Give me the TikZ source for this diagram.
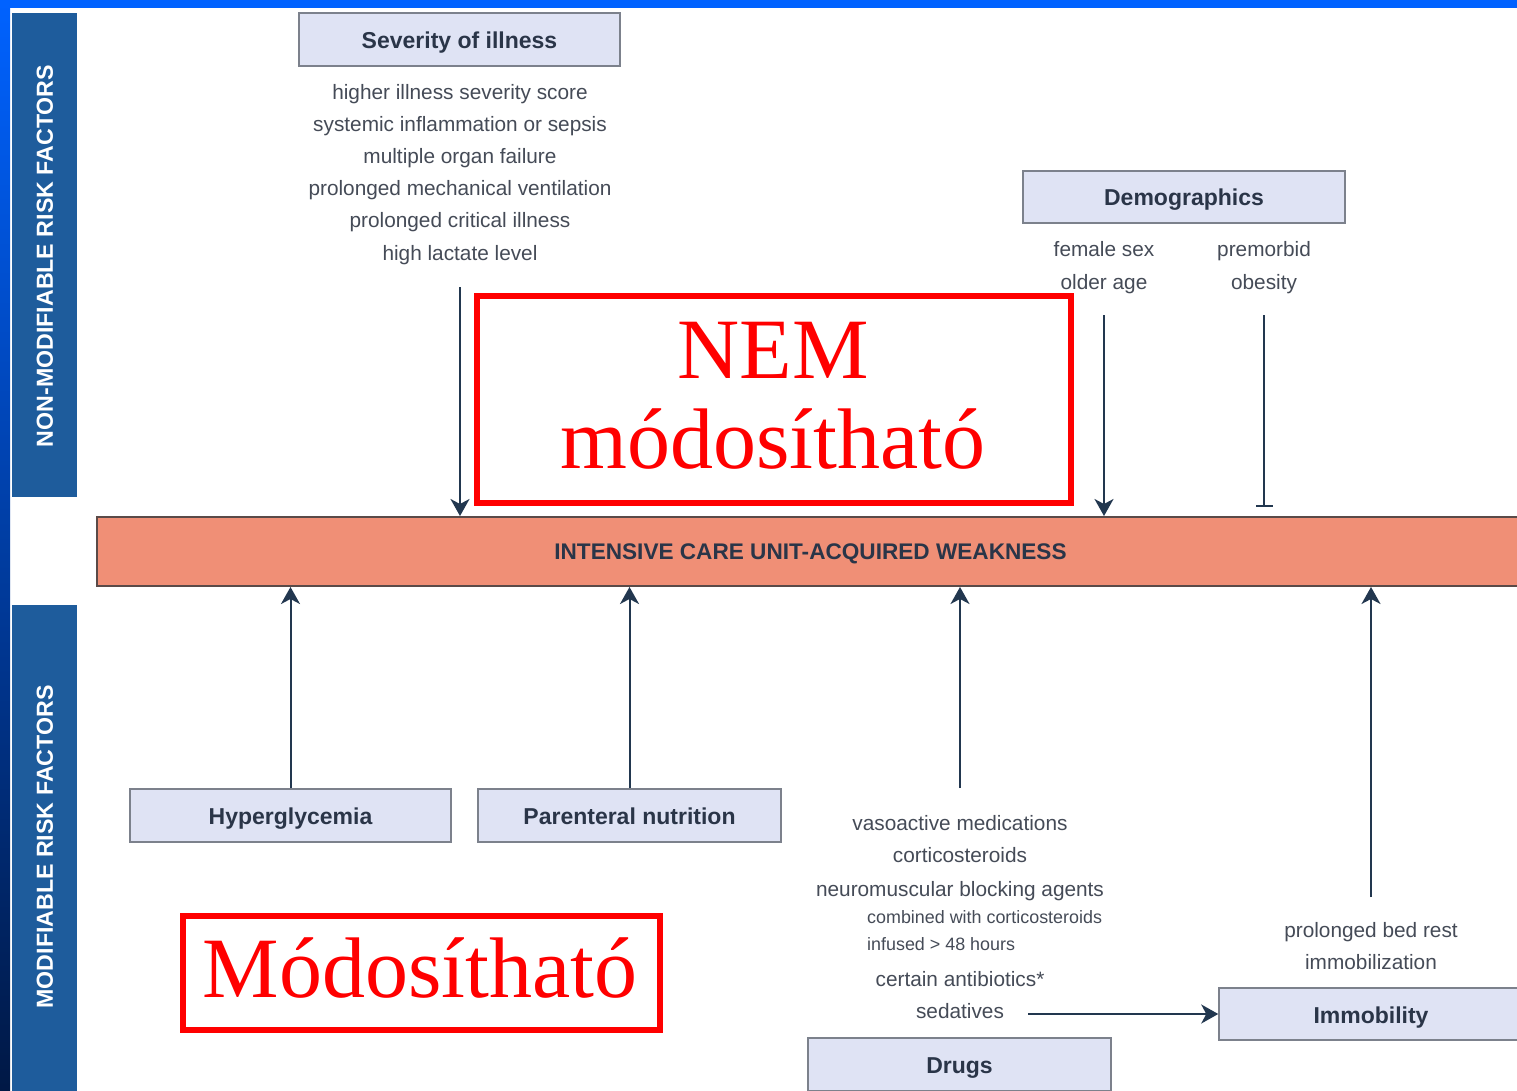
\documentclass[tikz,border=0pt]{standalone}
\usepackage{fontspec}
\setmainfont{Liberation Sans}
\newfontfamily\redserif{Liberation Serif}
\usetikzlibrary{arrows.meta}
\definecolor{txtgray}{HTML}{454B57}
\definecolor{lbltxt}{HTML}{2A3548}
\definecolor{boxfill}{HTML}{DFE3F4}
\definecolor{boxline}{HTML}{7C818C}
\definecolor{navy}{HTML}{22374F}
\definecolor{salmon}{HTML}{F08F76}
\definecolor{salmonline}{HTML}{5A4A48}
\definecolor{panelblue}{HTML}{1E5C9C}
\definecolor{slideblue}{HTML}{0062FF}
\definecolor{slidenavy}{HTML}{001845}
\definecolor{redbox}{HTML}{FF0000}
\begin{document}
\begin{tikzpicture}[x=1pt,y=-1pt,
  catbox/.style={draw=boxline, fill=boxfill, line width=1.5pt, rectangle, inner sep=0pt,
    font=\fontsize{23}{27}\selectfont\bfseries, text=lbltxt, text height=20pt, text depth=2pt},
  small/.style={font=\fontsize{20.8}{24}\selectfont, text=txtgray, inner sep=0pt,
    text height=17.5pt, text depth=3pt},
  tiny/.style={font=\fontsize{17.9}{21}\selectfont, text=txtgray, inner sep=0pt,
    text height=15pt, text depth=2.5pt},
  panel/.style={fill=panelblue, rectangle, inner sep=0pt},
  paneltext/.style={rotate=90, text=white, font=\fontsize{23.2}{27}\selectfont\bfseries, inner sep=0pt,
    text height=16.6pt, text depth=0pt},
  arr/.style={draw=navy, line width=2pt, -{Stealth[length=17pt,width=19pt,inset=5pt]}},
  tbar/.style={draw=navy, line width=2pt, -{Bar[width=17pt,line width=2pt]}},
  redframe/.style={draw=redbox, line width=6pt, rectangle, inner sep=0pt},
  redtext/.style={text=redbox, font=\redserif\fontsize{86}{90}\selectfont, align=center, inner sep=0pt}
]
\useasboundingbox (0,0) rectangle (1517,1091);
% slide background
\fill[white] (0,0) rectangle (1517,1091);
\shade[top color=slideblue, bottom color=slidenavy] (0,0) rectangle (10,1091);
\fill[slideblue] (0,0) rectangle (1517,8);

% side panels
\node[panel, minimum width=65pt, minimum height=484pt] (nonmodpanel) at (44.5,255) {};
\node[paneltext] (nonmodtext) at (44.5,256) {NON-MODIFIABLE RISK FACTORS};
\node[panel, minimum width=65pt, minimum height=490pt] (modpanel) at (44.5,850) {};
\node[paneltext] (modtext) at (44.5,847) {MODIFIABLE RISK FACTORS};

% central bar
\node[draw=salmonline, fill=salmon, line width=2pt, rectangle, inner sep=0pt,
  minimum width=1430pt, minimum height=69pt] (icu) at (812,551.5) {};
\node[font=\fontsize{22.6}{26}\selectfont\bfseries, text=lbltxt, inner sep=0pt,
  text height=16.2pt, text depth=0pt] (icutext) at (810.5,551.5)
  {INTENSIVE CARE UNIT-ACQUIRED WEAKNESS};

% severity of illness
\node[catbox, minimum width=321pt, minimum height=53pt] (severity) at (459.5,39.5) {Severity of illness};
\node[small] (s1) at (460,92) {higher illness severity score};
\node[small] (s2) at (460,124) {systemic inflammation or sepsis};
\node[small] (s3) at (460,156) {multiple organ failure};
\node[small] (s4) at (460,188) {prolonged mechanical ventilation};
\node[small] (s5) at (460,220) {prolonged critical illness};
\node[small] (s6) at (460,253) {high lactate level};
\coordinate (sevA) at (460,287);
\draw[arr] (sevA) -- (sevA |- icu.north);

% demographics
\node[catbox, minimum width=322pt, minimum height=52pt] (demo) at (1184,197) {Demographics};
\node[small] (d1) at (1104,249) {female sex};
\node[small] (d2) at (1104,282) {older age};
\node[small] (d3) at (1264,249) {premorbid};
\node[small] (d4) at (1264,282) {obesity};
\coordinate (demoA) at (1104,315);
\draw[arr] (demoA) -- (demoA |- icu.north);
\coordinate (obA) at (1264,315);
\coordinate (obB) at (1264,507);
\draw[tbar] (obA) -- (obB);

% modifiable boxes
\node[catbox, minimum width=321pt, minimum height=53pt] (hyper) at (290.5,815.5) {Hyperglycemia};
\node[catbox, minimum width=303pt, minimum height=53pt] (parent) at (629.5,815.5) {Parenteral nutrition};
\draw[arr] (hyper.north) -- (hyper.north |- icu.south);
\draw[arr] (parent.north) -- (parent.north |- icu.south);

% drugs
\node[small] (g1) at (960,823) {vasoactive medications};
\node[small] (g2) at (960,855) {corticosteroids};
\node[small] (g3) at (960,889) {neuromuscular blocking agents};
\node[tiny, anchor=west] (g4) at (867,917) {combined with corticosteroids};
\node[tiny, anchor=west] (g5) at (867,944) {infused > 48 hours};
\node[small] (g6) at (960,979) {certain antibiotics*};
\node[small] (g7) at (960,1011) {sedatives};
\node[catbox, minimum width=303pt, minimum height=53pt] (drugs) at (959.5,1064.5) {Drugs};
\coordinate (drugA) at (960,788);
\draw[arr] (drugA) -- (drugA |- icu.south);

% immobility
\node[small] (m1) at (1371,930) {prolonged bed rest};
\node[small] (m2) at (1371,962) {immobilization};
\node[catbox, minimum width=304pt, minimum height=52pt] (immob) at (1371,1014) {Immobility};
\coordinate (immA) at (1371,897);
\draw[arr] (immA) -- (immA |- icu.south);
\coordinate (sedA) at (1028,1014);
\draw[arr] (sedA) -- (immob.west);

% red annotations
\node[redframe, minimum width=594pt, minimum height=207pt] (nembox) at (774,399.5) {};
\node[redtext] (nemtext) at (773,396) {NEM\\módosítható};
\node[redframe, minimum width=477pt, minimum height=114pt] (modbox) at (421.5,973) {};
\node[redtext] (modlabel) at (420,968) {Módosítható};
\end{tikzpicture}
\end{document}
